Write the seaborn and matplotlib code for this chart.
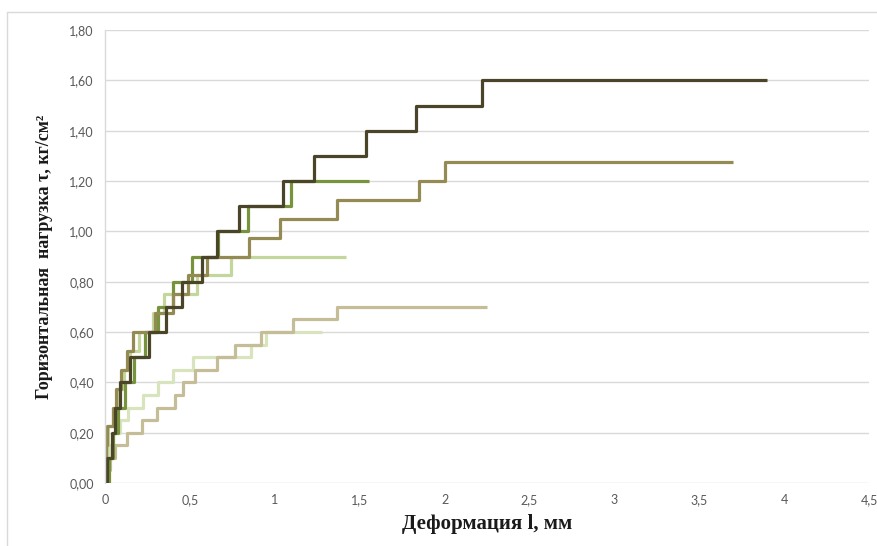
import matplotlib
matplotlib.use("Agg")
import matplotlib.pyplot as plt
import matplotlib.ticker as mticker
from matplotlib.lines import Line2D
import seaborn as sns
import pandas as pd

# step series: x where each level begins, the level, and where the line ends
s6_x = [0, 0.005, 0.01, 0.03, 0.05, 0.09, 0.137, 0.224, 0.31, 0.40, 0.52, 0.86, 0.95]
s6_y = [0, 0.05, 0.10, 0.15, 0.20, 0.25, 0.30, 0.35, 0.40, 0.45, 0.50, 0.55, 0.60]
s6_end = 1.28

s4_x = [0, 0.005, 0.01, 0.02, 0.05, 0.08, 0.11, 0.15, 0.20, 0.28, 0.35, 0.54, 0.745]
s4_y = [0, 0.075, 0.15, 0.225, 0.30, 0.375, 0.45, 0.525, 0.60, 0.675, 0.75, 0.825, 0.90]
s4_end = 1.42

s5_x = [0, 0.01, 0.03, 0.059, 0.128, 0.216, 0.304, 0.41, 0.46, 0.53, 0.66, 0.766, 0.92, 1.11, 1.365]
s5_y = [0, 0.05, 0.10, 0.15, 0.20, 0.25, 0.30, 0.35, 0.40, 0.45, 0.50, 0.55, 0.60, 0.65, 0.70]
s5_end = 2.25

s3_x = [0, 0.024, 0.05, 0.075, 0.12, 0.17, 0.235, 0.31, 0.40, 0.51, 0.665, 0.84, 1.094]
s3_y = [0, 0.10, 0.20, 0.30, 0.40, 0.50, 0.60, 0.70, 0.80, 0.90, 1.00, 1.10, 1.20]
s3_end = 1.555

s2_x = [0, 0.003, 0.006, 0.01, 0.045, 0.065, 0.095, 0.13, 0.165, 0.295, 0.40, 0.49, 0.60, 0.85,
        1.03, 1.365, 1.85, 2.0]
s2_y = [0, 0.075, 0.15, 0.225, 0.30, 0.375, 0.45, 0.525, 0.60, 0.675, 0.75, 0.825, 0.90, 0.975,
        1.05, 1.125, 1.20, 1.275]
s2_end = 3.70

s1_x = [0, 0.01, 0.04, 0.06, 0.09, 0.15, 0.26, 0.36, 0.455, 0.57, 0.66, 0.79, 1.05, 1.23,
        1.54, 1.83, 2.22]
s1_y = [0, 0.1, 0.2, 0.3, 0.4, 0.5, 0.6, 0.7, 0.8, 0.9, 1.0, 1.1, 1.2, 1.3, 1.4, 1.5, 1.6]
s1_end = 3.90

series = [
    ("s6", s6_x, s6_y, s6_end, "#D7E4BD"),
    ("s4", s4_x, s4_y, s4_end, "#C3D69B"),
    ("s5", s5_x, s5_y, s5_end, "#C4BD97"),
    ("s3", s3_x, s3_y, s3_end, "#77933C"),
    ("s2", s2_x, s2_y, s2_end, "#948A54"),
    ("s1", s1_x, s1_y, s1_end, "#4A4529"),
]

rows = []
for name, xs, ys, xe, _ in series:
    for i, (a, b) in enumerate(zip(xs + [xe], ys + [ys[-1]])):
        rows.append({"serie": name, "x": a, "y": b, "order": i})
df = pd.DataFrame(rows)
palette = {name: c for name, _, _, _, c in series}

sns.set_theme(style="white")
plt.rcParams["font.family"] = ["Lato", "DejaVu Sans"]

fig = plt.figure(figsize=(8.78, 5.46), dpi=100)
ax = fig.add_axes([105 / 878, 1 - 483 / 546, (869 - 105) / 878, (483 - 30) / 546])

for name, _, _, _, _ in series:
    sub = df[df["serie"] == name]
    sns.lineplot(data=sub, x="x", y="y", ax=ax, color=palette[name], sort=False,
                 estimator=None, drawstyle="steps-post", linewidth=2.3, legend=False,
                 solid_capstyle="butt")

ax.set_xlim(0, 4.5)
ax.set_ylim(0, 1.8)
ax.set_xticks([0, 0.5, 1, 1.5, 2, 2.5, 3, 3.5, 4, 4.5])
ax.set_yticks([0, 0.2, 0.4, 0.6, 0.8, 1.0, 1.2, 1.4, 1.6, 1.8])
ax.xaxis.set_major_formatter(mticker.FuncFormatter(lambda v, p: f"{v:g}".replace(".", ",")))
ax.yaxis.set_major_formatter(mticker.FuncFormatter(lambda v, p: f"{v:.2f}".replace(".", ",")))
ax.tick_params(axis="both", labelsize=9, colors="#595959", length=0, pad=8)
ax.grid(axis="y", color="#D9D9D9", linewidth=1)
ax.set_axisbelow(True)
for s in ["top", "right", "bottom"]:
    ax.spines[s].set_visible(False)
ax.spines["left"].set_color("#D9D9D9")
ax.spines["left"].set_linewidth(1)

ax.set_xlabel("Деформация l, мм", family="Liberation Serif", fontweight="bold",
              fontsize=15, color="#1a1a1a", labelpad=6)
ax.set_ylabel("Горизонтальная  нагрузка τ, кг/см²", family="Liberation Serif",
              fontweight="bold", fontsize=13, color="#1a1a1a", labelpad=12)

# chart area border (left and top edges)
fig.add_artist(Line2D([7 / 878, 7 / 878], [0, 1 - 12 / 546], color="#D9D9D9", lw=1))
fig.add_artist(Line2D([7 / 878, 1], [1 - 12 / 546, 1 - 12 / 546], color="#D9D9D9", lw=1))

fig.savefig("out.png", dpi=100)
